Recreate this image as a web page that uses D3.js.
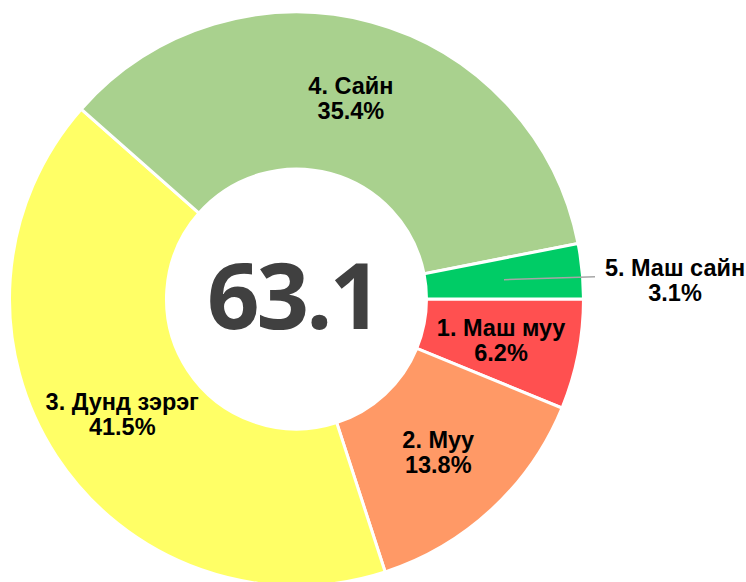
<!DOCTYPE html>
<html><head><meta charset="utf-8">
<script src="https://cdn.jsdelivr.net/npm/d3@7"></script>
<style>body{margin:0;background:#fff}svg{display:block}</style>
</head><body>
<svg id="c" width="746" height="582"></svg>
<script>
const categories = ["1. Маш муу", "2. Муу", "3. Дунд зэрэг", "4. Сайн", "5. Маш сайн"];
const values = [6.2, 13.8, 41.5, 35.4, 3.1];
const colors = ["#FF5050", "#FF9966", "#FFFF66", "#A9D18E", "#00CC66"];
const centerValue = "63.1";

const svg = d3.select("#c");
const cx = 296.5, cy = 299, R = 287, r0 = 130;
const g = svg.append("g").attr("transform", `translate(${cx},${cy})`);

const pie = d3.pie().sort(null).value(d => d)
  .startAngle(Math.PI / 2).endAngle(Math.PI / 2 + 2 * Math.PI);
const arcs = pie(values);
const arc = d3.arc().innerRadius(r0).outerRadius(R);

g.selectAll("path.slice").data(arcs).enter().append("path")
  .attr("class", "slice")
  .attr("d", arc)
  .attr("fill", (d, i) => colors[i])
  .attr("stroke", "#fff").attr("stroke-width", 3).attr("stroke-linejoin", "miter");

const fmt = v => v.toFixed(1) + "%";

arcs.forEach((d, i) => {
  let [x, y] = arc.centroid(d);
  const outside = i === 4;
  let tx = x, ty = y;
  if (outside) {
    tx = x + 171; ty = y + 1;
    g.append("line").attr("x1", x).attr("y1", y + 1).attr("x2", x + 91).attr("y2", y - 2)
      .attr("stroke", "#A6A6A6").attr("stroke-width", 1.5);
  }
  const t = g.append("text").attr("text-anchor", "middle")
    .attr("font-family", "Liberation Sans, Arial, sans-serif")
    .attr("font-weight", "bold").attr("font-size", 23.5).attr("fill", "#000");
  t.append("tspan").attr("x", tx).attr("y", ty - 3.5).text(categories[i]);
  t.append("tspan").attr("x", tx).attr("y", ty + 21.5).text(fmt(values[i]));
});

g.append("text").attr("x", -3.5).attr("y", 30)
  .attr("text-anchor", "middle")
  .attr("font-family", "Open Sans, sans-serif").attr("font-weight", "bold")
  .attr("font-size", 92).attr("letter-spacing", -3).attr("fill", "#404040")
  .text(centerValue);
</script>
</body></html>
